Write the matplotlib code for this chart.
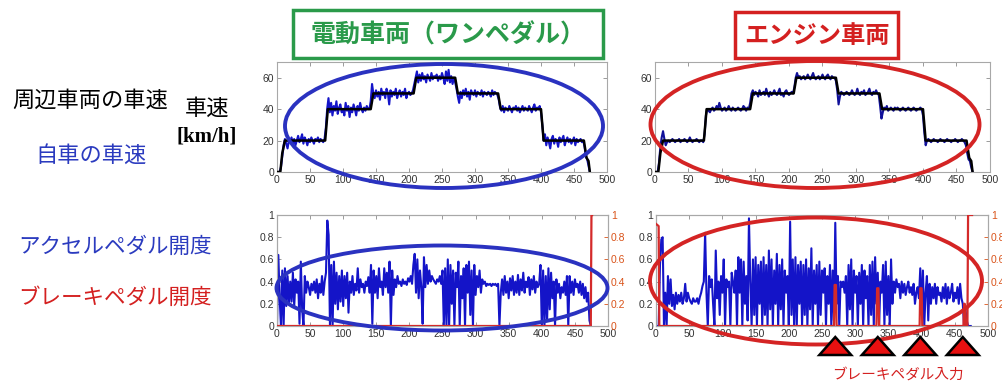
import numpy as np
import matplotlib
matplotlib.use("Agg")
import matplotlib.pyplot as plt
from matplotlib.patches import Ellipse, Rectangle, Polygon
from matplotlib.transforms import blended_transform_factory

plt.rcParams['font.family'] = ['Liberation Sans', 'Noto Sans CJK JP', 'DejaVu Sans']
JP = ['Noto Sans CJK JP', 'DejaVu Sans']

# ---------------------------------------------------------------- data
time = np.arange(0, 476, 2)          # sample times [s]

# target speed of the surrounding traffic [km/h]
ref_time = [0, 5, 8, 12, 73, 77, 142, 146, 207, 211, 270, 274, 335, 339,
            400, 404, 465, 469, 472, 474]
ref_speed = [0, 0, 12, 20, 20, 40, 40, 50, 50, 60, 60, 50, 50, 40,
             40, 20, 20, 9, 7, 0]

# own vehicle speed, one-pedal electric vehicle [km/h]
ev_speed = [
    0, 0, 0, 3, 10, 17, 21, 18, 15, 20,
    19, 22, 18, 21, 17, 20, 23, 19, 21, 24,
    18, 22, 20, 17, 21, 19, 22, 20, 18, 21,
    20, 22, 19, 21, 20, 19, 21, 28, 40, 47,
    38, 44, 36, 42, 39, 45, 37, 41, 43, 38,
    40, 36, 44, 39, 42, 35, 41, 38, 43, 40,
    36, 42, 39, 44, 40, 38, 41, 39, 42, 40,
    40, 45, 56, 50, 47, 52, 48, 51, 46, 53,
    49, 51, 47, 53, 50, 43, 52, 48, 51, 49,
    53, 47, 50, 52, 48, 51, 49, 53, 47, 50,
    51, 49, 50, 52, 56, 60, 64, 57, 62, 58,
    63, 59, 61, 57, 62, 60, 58, 63, 59, 61,
    60, 62, 58, 61, 59, 63, 60, 56, 64, 58,
    65, 57, 61, 56, 60, 57, 53, 48, 44, 51,
    47, 52, 49, 53, 48, 51, 46, 52, 50, 49,
    52, 48, 51, 50, 49, 52, 48, 51, 50, 49,
    51, 50, 48, 52, 49, 51, 50, 49, 46, 41,
    39, 42, 38, 41, 40, 39, 42, 40, 38, 41,
    40, 42, 39, 41, 38, 40, 42, 39, 41, 40,
    39, 42, 40, 38, 41, 43, 39, 41, 40, 42,
    38, 30, 20, 24, 17, 22, 19, 15, 21, 23,
    18, 21, 20, 16, 22, 19, 21, 23, 17, 20,
    22, 19, 21, 18, 20, 22, 17, 21, 19, 20,
    21, 19, 20, 16, 10, 8, 4, 0,
]

# own vehicle speed, engine vehicle [km/h]
eng_speed = [
    0, 0, 0, 6, 16, 22, 26, 21, 17, 19,
    20, 19, 20, 21, 20, 19, 20, 20, 21, 19,
    20, 20, 21, 20, 19, 20, 22, 20, 19, 20,
    20, 21, 20, 19, 20, 20, 19, 24, 36, 40,
    39, 38, 40, 41, 39, 40, 42, 40, 44, 41,
    39, 40, 41, 39, 40, 42, 40, 39, 41, 40,
    39, 40, 41, 40, 39, 40, 42, 41, 39, 41,
    40, 44, 50, 52, 49, 51, 50, 48, 52, 49,
    50, 51, 49, 53, 50, 48, 51, 49, 50, 52,
    50, 49, 51, 53, 49, 50, 48, 51, 52, 50,
    49, 50, 51, 50, 54, 60, 63, 60, 61, 59,
    60, 61, 59, 60, 62, 60, 59, 61, 63, 60,
    59, 60, 61, 59, 60, 62, 60, 59, 61, 62,
    60, 59, 61, 60, 60, 58, 52, 43, 48, 51,
    50, 49, 50, 51, 50, 49, 50, 52, 50, 49,
    50, 53, 50, 49, 51, 50, 52, 49, 50, 51,
    53, 50, 49, 51, 50, 52, 50, 49, 42, 34,
    38, 41, 40, 42, 39, 40, 41, 40, 39, 41,
    40, 41, 40, 39, 40, 41, 40, 39, 40, 41,
    40, 39, 40, 41, 40, 39, 40, 40, 41, 40,
    36, 25, 17, 20, 21, 20, 19, 20, 21, 20,
    20, 19, 20, 21, 20, 20, 19, 20, 21, 20,
    20, 19, 20, 20, 21, 20, 19, 20, 20, 21,
    20, 19, 17, 12, 8, 7, 3, 0,
]

# accelerator pedal opening, one-pedal electric vehicle [-]
ev_accel = [
    0.0, 0.64, 0.25, 0.0, 0.50, 0.0, 0.52, 0.18, 0.45, 0.20,
    0.40, 0.22, 0.48, 0.18, 0.42, 0.30, 0.40, 0.02, 0.58, 0.15,
    0.0, 0.45, 0.30, 0.40, 0.35, 0.28, 0.38, 0.32, 0.40, 0.30,
    0.42, 0.25, 0.38, 0.30, 0.45, 0.28, 0.40, 0.48, 0.95, 0.82,
    0.0, 0.55, 0.0, 0.58, 0.20, 0.48, 0.15, 0.45, 0.22, 0.50,
    0.18, 0.45, 0.25, 0.48, 0.12, 0.40, 0.30, 0.45, 0.28, 0.38,
    0.32, 0.52, 0.30, 0.42, 0.35, 0.38, 0.30, 0.40, 0.36, 0.44,
    0.30, 0.55, 0.02, 0.50, 0.30, 0.45, 0.25, 0.52, 0.35, 0.40,
    0.28, 0.52, 0.35, 0.48, 0.30, 0.58, 0.0, 0.50, 0.28, 0.42,
    0.35, 0.45, 0.38, 0.40, 0.36, 0.42, 0.38, 0.40, 0.37, 0.43,
    0.40, 0.45, 0.38, 0.55, 0.65, 0.30, 0.60, 0.25, 0.50, 0.35,
    0.02, 0.62, 0.35, 0.55, 0.38, 0.50, 0.40, 0.45, 0.42, 0.40,
    0.38, 0.42, 0.40, 0.45, 0.38, 0.50, 0.0, 0.52, 0.0, 0.60,
    0.0, 0.55, 0.20, 0.50, 0.0, 0.48, 0.35, 0.58, 0.0, 0.45,
    0.25, 0.52, 0.0, 0.55, 0.30, 0.58, 0.10, 0.50, 0.0, 0.55,
    0.28, 0.45, 0.35, 0.50, 0.30, 0.42, 0.38, 0.40, 0.36, 0.38,
    0.37, 0.38, 0.36, 0.38, 0.37, 0.38, 0.36, 0.38, 0.0, 0.30,
    0.42, 0.28, 0.45, 0.30, 0.40, 0.25, 0.43, 0.32, 0.45, 0.28,
    0.40, 0.30, 0.46, 0.28, 0.42, 0.32, 0.48, 0.30, 0.40, 0.35,
    0.44, 0.28, 0.42, 0.33, 0.45, 0.30, 0.40, 0.35, 0.38, 0.55,
    0.0, 0.50, 0.0, 0.45, 0.05, 0.52, 0.15, 0.48, 0.25, 0.40,
    0.0, 0.42, 0.30, 0.38, 0.25, 0.35, 0.30, 0.40, 0.28, 0.45,
    0.0, 0.45, 0.30, 0.40, 0.28, 0.42, 0.35, 0.38, 0.30, 0.40,
    0.28, 0.38, 0.25, 0.35, 0.22, 0.30, 0.05, 0.0,
]

# accelerator pedal opening, engine vehicle [-]
eng_accel = [
    0.0, 0.0, 0.0, 0.55, 0.78, 0.80, 0.0, 0.30, 0.0, 0.45,
    0.20, 0.42, 0.18, 0.28, 0.15, 0.30, 0.20, 0.28, 0.22, 0.30,
    0.20, 0.25, 0.38, 0.22, 0.30, 0.25, 0.22, 0.20, 0.25, 0.22,
    0.22, 0.25, 0.20, 0.26, 0.30, 0.36, 0.40, 0.84, 0.30, 0.0,
    0.45, 0.35, 0.42, 0.20, 0.0, 0.68, 0.25, 0.40, 0.10, 0.45,
    0.30, 0.60, 0.0, 0.42, 0.35, 0.40, 0.0, 0.48, 0.40, 0.30,
    0.50, 0.0, 0.62, 0.30, 0.60, 0.0, 0.58, 0.20, 0.45, 0.05,
    0.97, 0.40, 0.0, 0.60, 0.10, 0.62, 0.0, 0.55, 0.20, 0.58,
    0.0, 0.62, 0.10, 0.55, 0.0, 0.68, 0.15, 0.60, 0.0, 0.50,
    0.20, 0.65, 0.0, 0.55, 0.15, 0.60, 0.0, 0.50, 0.30, 0.45,
    0.0, 0.94, 0.10, 0.60, 0.0, 0.62, 0.0, 0.55, 0.20, 0.58,
    0.0, 0.55, 0.10, 0.60, 0.0, 0.52, 0.15, 0.70, 0.0, 0.50,
    0.20, 0.55, 0.0, 0.58, 0.10, 0.50, 0.30, 0.52, 0.0, 0.45,
    0.20, 0.55, 0.0, 0.50, 0.05, 0.93, 0.20, 0.45, 0.0, 0.40,
    0.35, 0.40, 0.30, 0.45, 0.0, 0.55, 0.15, 0.60, 0.0, 0.50,
    0.30, 0.45, 0.0, 0.48, 0.20, 0.55, 0.0, 0.50, 0.25, 0.45,
    0.0, 0.55, 0.10, 0.58, 0.0, 0.62, 0.20, 0.48, 0.0, 0.40,
    0.30, 0.55, 0.0, 0.58, 0.10, 0.45, 0.0, 0.60, 0.20, 0.40,
    0.30, 0.42, 0.35, 0.38, 0.25, 0.40, 0.30, 0.38, 0.28, 0.35,
    0.40, 0.30, 0.35, 0.28, 0.38, 0.20, 0.30, 0.35, 0.25, 0.52,
    0.10, 0.50, 0.0, 0.30, 0.45, 0.05, 0.38, 0.20, 0.35, 0.25,
    0.38, 0.20, 0.35, 0.28, 0.30, 0.22, 0.35, 0.25, 0.38, 0.20,
    0.35, 0.25, 0.30, 0.38, 0.22, 0.30, 0.25, 0.35, 0.20, 0.38,
    0.25, 0.20, 0.0, 0.15, 0.05, 0.0, 0.0, 0.0,
]

# brake pedal opening [-]
ev_brake_time = [0, 474, 475, 476]
ev_brake = [0, 0, 1, 1]
eng_brake_time = [0, 4, 5, 268, 269, 271, 272, 332, 333, 335, 336,
                  397, 398, 400, 401, 463, 464, 465, 466, 469, 470, 476]
eng_brake = [0.92, 0.90, 0, 0, 0.37, 0.37, 0, 0, 0.34, 0.34, 0,
             0, 0.34, 0.34, 0, 0, 0.20, 0.20, 0, 0, 1, 1]

# times at which the engine driver presses the brake
brake_marks = [270, 334, 398, 462]

xticks = list(range(0, 501, 50))
speed_ticks = [0, 20, 40, 60]
pedal_ticks = [0, 0.2, 0.4, 0.6, 0.8, 1]
pedal_labels = ['0', '0.2', '0.4', '0.6', '0.8', '1']

# ---------------------------------------------------------------- figure
W, H = 1003, 385
fig = plt.figure(figsize=(W / 100, H / 100), dpi=100)
fig.patch.set_facecolor('white')


def px_axes(x0, y0, x1, y1):
    return fig.add_axes([x0 / W, 1 - y1 / H, (x1 - x0) / W, (y1 - y0) / H])


BLUE = '#1414c8'
NAVY = '#10109a'
BRAKE = '#d42a2a'
ORANGE = '#D95319'
TICK_TXT = '#333333'


def style(ax, right=True):
    for s in ax.spines.values():
        s.set_color('#a8a8a8')
        s.set_linewidth(0.8)
    ax.tick_params(direction='in', length=3, width=0.6, colors='#8a8a8a',
                   labelcolor=TICK_TXT, labelsize=7.5, top=True, right=right,
                   pad=2)
    ax.set_xlim(0, 500)
    ax.set_xticks(xticks)
    ax.set_xticklabels([str(v) for v in xticks])


# speed plots
ax_ev_v = px_axes(277, 62, 607, 172)
ax_en_v = px_axes(655, 62, 990, 172)
for ax, spd, col in ((ax_ev_v, ev_speed, BLUE), (ax_en_v, eng_speed, NAVY)):
    style(ax)
    ax.plot(time, spd, color=col, lw=1.5, zorder=2)
    ax.plot(ref_time, ref_speed, color='black', lw=1.8, zorder=3)
    ax.set_ylim(0, 70)
    ax.set_yticks(speed_ticks)
    ax.set_yticklabels([str(v) for v in speed_ticks])

# pedal plots
ax_ev_p = px_axes(277, 215, 608, 326)
ax_en_p = px_axes(656, 215, 988, 326)
for ax, acc, btime, brk in ((ax_ev_p, ev_accel, ev_brake_time, ev_brake),
                            (ax_en_p, eng_accel, eng_brake_time, eng_brake)):
    style(ax, right=False)
    ax.plot(time, acc, color=BLUE, lw=1.5, zorder=2)
    ax.set_ylim(0, 1)
    ax.set_yticks(pedal_ticks)
    ax.set_yticklabels(pedal_labels)
    tw = ax.twinx()
    tw.set_ylim(0, 1)
    tw.set_yticks(pedal_ticks)
    tw.set_yticklabels(pedal_labels)
    tw.tick_params(axis='y', direction='in', length=3, width=0.6,
                   colors=ORANGE, labelsize=7.5, pad=2)
    for s in tw.spines.values():
        s.set_color('#a8a8a8')
        s.set_linewidth(0.8)
    tw.plot(btime, brk, color=BRAKE, lw=1.6, zorder=3)

# ---------------------------------------------------------------- overlay
ov = fig.add_axes([0, 0, 1, 1], zorder=10)
ov.set_xlim(0, W)
ov.set_ylim(H, 0)
ov.axis('off')
ov.patch.set_alpha(0)

ELL_BLUE = '#2a32c0'
ELL_RED = '#d42424'
for (cx, cy, w, h, c) in ((444, 126, 318, 124, ELL_BLUE),
                          (815, 124.5, 329, 127, ELL_RED),
                          (442, 288, 331, 85, ELL_BLUE),
                          (816, 281, 332, 127, ELL_RED)):
    ov.add_patch(Ellipse((cx, cy), w, h, fill=False, ec=c, lw=2.8))

GREEN = '#2a9a4a'
ov.add_patch(Rectangle((293, 10), 310, 48, fill=False, ec=GREEN, lw=2.5))
ov.text(448, 35, '電動車両（ワンペダル）', color=GREEN, fontsize=18,
        family=JP, ha='center', va='center', weight='bold')
ov.add_patch(Rectangle((735, 12), 163, 46, fill=False, ec='#d42020', lw=2.5))
ov.text(816.5, 36, 'エンジン車両', color='#d42020', fontsize=17.5,
        family=JP, ha='center', va='center', weight='bold')

TXT_BLUE = '#2b3bbf'
TXT_RED = '#d42020'
ov.text(12, 100, '周辺車両の車速', color='black', fontsize=16, family=JP,
        ha='left', va='center')
ov.text(207, 108, '車速', color='black', fontsize=16, family=JP,
        ha='center', va='center')
ov.text(207, 137, '[km/h]', color='black', fontsize=15,
        family=['Liberation Serif'], weight='bold', ha='center', va='center')
ov.text(35, 155, '自車の車速', color=TXT_BLUE, fontsize=16, family=JP,
        ha='left', va='center')
ov.text(18, 247, 'アクセルペダル開度', color=TXT_BLUE, fontsize=15.5, family=JP,
        ha='left', va='center')
ov.text(18, 298, 'ブレーキペダル開度', color=TXT_RED, fontsize=15.5, family=JP,
        ha='left', va='center')

# brake-input markers under the engine pedal plot
bt = blended_transform_factory(ax_en_p.transData, ov.transData)
half = 24
for t in brake_marks:
    ov.add_patch(Polygon([(t - half, 355), (t + half, 355), (t, 337)],
                         closed=True, fc='#e81010', ec='black', lw=1.8,
                         transform=bt, clip_on=False))
ov.text(898, 375, 'ブレーキペダル入力', color=TXT_RED, fontsize=10.5,
        family=JP, ha='center', va='center')

fig.savefig('out.png', dpi=100, facecolor='white')
